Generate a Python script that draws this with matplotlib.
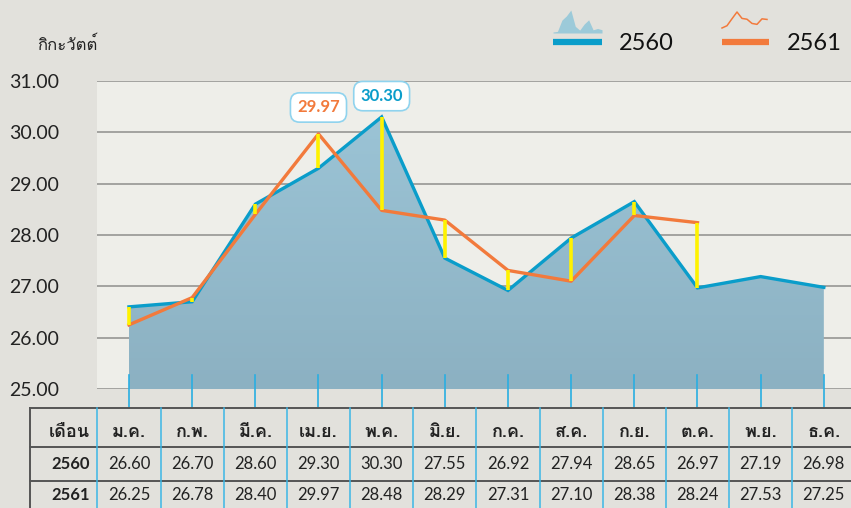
import matplotlib
matplotlib.use("Agg")
import matplotlib.pyplot as plt
import numpy as np
from matplotlib import font_manager, transforms
from matplotlib.ft2font import FT2Font
from matplotlib.patches import Polygon

months = ["ม.ค.", "ก.พ.", "มี.ค.", "เม.ย.", "พ.ค.", "มิ.ย.",
          "ก.ค.", "ส.ค.", "ก.ย.", "ต.ค.", "พ.ย.", "ธ.ค."]
y2560 = [26.60, 26.70, 28.60, 29.30, 30.30, 27.55, 26.92, 27.94, 28.65, 26.97, 27.19, 26.98]
y2561 = [26.25, 26.78, 28.40, 29.97, 28.48, 28.29, 27.31, 27.10, 28.38, 28.24, 27.53, 27.25]
n_line_2561 = 10          # the 2561 line stops at ต.ค.
yticks = [25, 26, 27, 28, 29, 30, 31]
unit_label = "กิกะวัตต์"
head_label = "เดือน"
series_names = ["2560", "2561"]

BLUE = "#0a9dca"
ORANGE = "#f27a3c"
YELLOW = "#fff200"


# find a font that has thai glyphs
def thai_font():
    for f in font_manager.fontManager.ttflist:
        try:
            if 0x0E01 in FT2Font(f.fname).get_charmap():
                return f.name
        except Exception:
            pass
    return "DejaVu Sans"

fam = [thai_font(), "DejaVu Sans"]
plt.rcParams["font.family"] = fam
num_font = ["Lato", "DejaVu Sans"]

fig = plt.figure(figsize=(8.51, 5.08), dpi=100)
fig.patch.set_facecolor("#e2e1dc")

x = np.arange(len(months))
ax = fig.add_axes([97 / 851, 1 - 389 / 508, 754 / 851, 308 / 508])
ax.set_facecolor("#eeeee9")
ax.set_xlim(-0.506, 11.43)
ax.set_ylim(25, 31)
for s in ax.spines.values():
    s.set_visible(False)
ax.set_xticks([])
ax.set_yticks(yticks)
ax.set_yticklabels(["%.2f" % v for v in yticks], fontsize=14, color="#222222", family=num_font)
ax.tick_params(axis="y", length=0, pad=27)
ax.yaxis.grid(True, color="#8e8e8c", lw=1.1)
ax.set_axisbelow(True)

# area of 2560 with a soft vertical gradient
poly = Polygon(np.column_stack([np.r_[x[0], x, x[-1]], np.r_[25, y2560, 25]]),
               closed=True, facecolor="none", edgecolor="none")
ax.add_patch(poly)
grad = np.linspace(0, 1, 100).reshape(-1, 1)
cmap = matplotlib.colors.LinearSegmentedColormap.from_list("g", ["#8cb1c2", "#9dc6d8"])
im = ax.imshow(grad, extent=[x[0], x[-1], 25, 31], origin="lower", aspect="auto",
               cmap=cmap, zorder=2)
im.set_clip_path(poly)

ax.plot(x, y2560, color=BLUE, lw=2.4, zorder=5, solid_joinstyle="miter")
ax.plot(x[:n_line_2561], y2561[:n_line_2561], color=ORANGE, lw=2.4, zorder=6)

# yellow connectors between the two years
for i in range(n_line_2561):
    ax.plot([x[i], x[i]], [y2560[i], y2561[i]], color=YELLOW, lw=2.6,
            zorder=7, solid_capstyle="butt")

# ticks hanging below the area
for xi in x:
    ax.plot([xi, xi], [25.27, 24.63], color="#29aee2", lw=1.2, clip_on=False, zorder=7)

# value callouts on the peaks
box = dict(boxstyle="round,pad=0.4,rounding_size=0.55", fc="white", ec="#8fd3ee", lw=1.2)
i_o = int(np.argmax(y2561[:n_line_2561]))
i_b = int(np.argmax(y2560))
ax.annotate("%.2f" % y2561[i_o], (x[i_o], y2561[i_o]), xytext=(0, 19), textcoords="offset points",
            ha="center", va="center", fontsize=12, fontweight="bold", color=ORANGE,
            bbox=box, zorder=8, family=num_font)
ax.annotate("%.2f" % y2560[i_b], (x[i_b], y2560[i_b]), xytext=(0, 15), textcoords="offset points",
            ha="center", va="center", fontsize=12, fontweight="bold", color=BLUE,
            bbox=box, zorder=8, family=num_font)

# overlay in pixel units for the table, legend and unit label
ov = fig.add_axes([0, 0, 1, 1])
ov.set_xlim(0, 851)
ov.set_ylim(508, 0)
ov.axis("off")
ov.patch.set_alpha(0)
ov.set_zorder(10)
tr = transforms.blended_transform_factory(ax.transData, ov.transData)

ov.text(37, 45, unit_label, fontsize=12, color="#222222", va="center", ha="left")

# table
col_left = -1.56
rows_y = [408, 447, 481, 508]
for yy in rows_y[:3]:
    ov.plot([col_left, 11.45], [yy, yy], color="#555555", lw=1.4, transform=tr, clip_on=False)
ov.plot([col_left, col_left], [408, 508], color="#555555", lw=1.4, transform=tr)
for i in range(len(months)):
    ov.plot([x[i] - 0.5, x[i] - 0.5], [408, 508], color="#3bb6e6", lw=1.1, transform=tr)
ov.text(-0.62, 432, head_label, ha="right", va="center", fontsize=13,
        fontweight="bold", color="#222222", transform=tr)
ov.text(-0.62, 464, series_names[0], ha="right", va="center", fontsize=12,
        fontweight="bold", color="#222222", transform=tr, family=num_font)
ov.text(-0.62, 495, series_names[1], ha="right", va="center", fontsize=12,
        fontweight="bold", color="#222222", transform=tr, family=num_font)
for i, m in enumerate(months):
    ov.text(x[i], 432, m, ha="center", va="center", fontsize=13, fontweight="bold",
            color="#222222", transform=tr)
    ov.text(x[i], 464, "%.2f" % y2560[i], ha="center", va="center", fontsize=12,
            color="#222222", transform=tr, family=num_font)
    ov.text(x[i], 495, "%.2f" % y2561[i], ha="center", va="center", fontsize=12,
            color="#222222", transform=tr, family=num_font)

# legend: tiny versions of the two series
def icon(x0, x1, y0, y1, vals):
    v = np.asarray(vals)
    xs = np.linspace(x0, x1, len(v))
    ys = y1 - (v - v.min()) / (v.max() - v.min()) * (y1 - y0)
    return xs, ys

xs, ys = icon(553, 602, 10, 32, y2560)
ov.fill_between(xs, ys, 33, color="#9ccad9", lw=0)
ov.plot([553, 602], [41.5, 41.5], color=BLUE, lw=4.5, solid_capstyle="butt")
ov.text(619, 44, series_names[0], fontsize=17, va="center", color="#111111", family=num_font)

xs, ys = icon(722, 767, 12, 28, y2561[:n_line_2561])
ov.plot(xs, ys, color=ORANGE, lw=1.1)
ov.plot([722, 769], [41.5, 41.5], color=ORANGE, lw=4.5, solid_capstyle="butt")
ov.text(787, 44, series_names[1], fontsize=17, va="center", color="#111111", family=num_font)

fig.savefig("out.png", dpi=100, facecolor=fig.get_facecolor())
